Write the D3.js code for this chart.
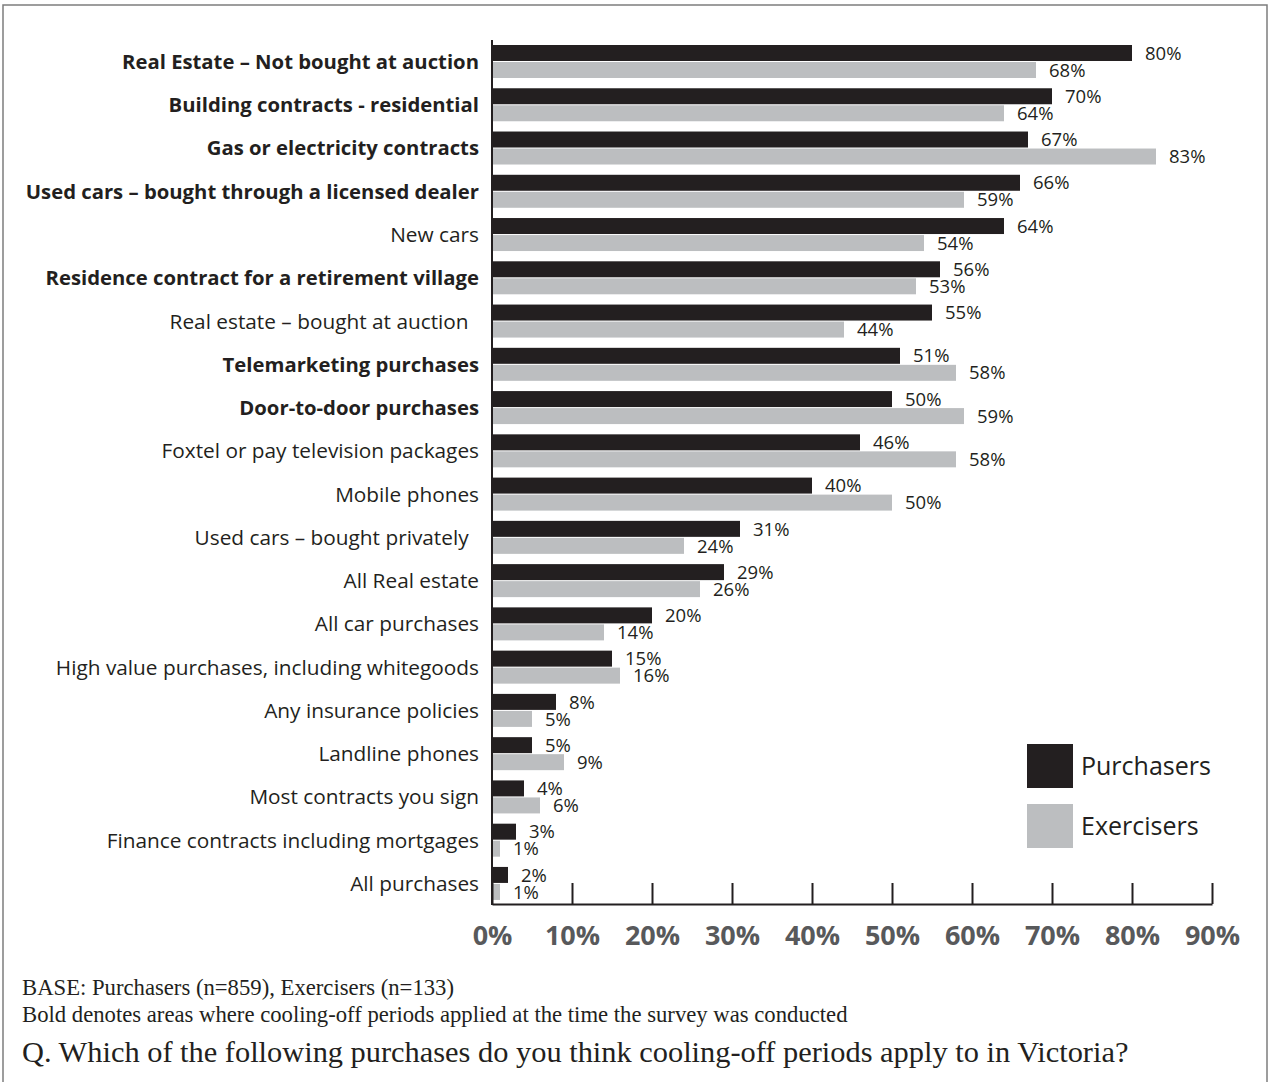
<!DOCTYPE html>
<html>
<head>
<meta charset="utf-8">
<script src="https://cdn.jsdelivr.net/npm/d3@7"></script>
<style>
  body { margin: 0; background: #fff; }
  svg { display: block; }
</style>
</head>
<body>
<svg id="chart" width="1270" height="1084"></svg>
<script>
// Purchase types, in the order they are listed
const categories = [
  "Real Estate – Not bought at auction",
  "Building contracts - residential",
  "Gas or electricity contracts",
  "Used cars – bought through a licensed dealer",
  "New cars",
  "Residence contract for a retirement village",
  "Real estate – bought at auction\u2002",
  "Telemarketing purchases",
  "Door-to-door purchases",
  "Foxtel or pay television packages",
  "Mobile phones",
  "Used cars – bought privately\u2002",
  "All Real estate",
  "All car purchases",
  "High value purchases, including whitegoods",
  "Any insurance policies",
  "Landline phones",
  "Most contracts you sign",
  "Finance contracts including mortgages",
  "All purchases"
];

// Areas where a cooling-off period applied when the survey ran (shown in bold)
const coolingOffApplied = [
  true, true, true, true, false, true, false, true, true, false,
  false, false, false, false, false, false, false, false, false, false
];

// Percentage who think a cooling-off period applies
const purchasers = [80, 70, 67, 66, 64, 56, 55, 51, 50, 46, 40, 31, 29, 20, 15, 8, 5, 4, 3, 2];
const exercisers = [68, 64, 83, 59, 54, 53, 44, 58, 59, 58, 50, 24, 26, 14, 16, 5, 9, 6, 1, 1];

const seriesNames = ["Purchasers", "Exercisers"];
const seriesColors = ["#231f20", "#bcbec0"];

const tickValues = [0, 10, 20, 30, 40, 50, 60, 70, 80, 90];

const footnotes = [
  "BASE: Purchasers (n=859), Exercisers (n=133)",
  "Bold denotes areas where cooling-off periods applied at the time the survey was conducted"
];
const question = "Q. Which of the following purchases do you think cooling-off periods apply to in Victoria?";

const svg = d3.select("#chart");
const sans = "'Open Sans', 'Noto Sans', sans-serif";
const serif = "'Liberation Serif', 'DejaVu Serif', serif";

// Outer frame (open at the bottom edge)
svg.append("path")
  .attr("d", "M3,1082V5H1267V1082")
  .attr("fill", "none")
  .attr("stroke", "#7d7d7d")
  .attr("stroke-width", 1.5);

// Scales
const x = d3.scaleLinear().domain([0, 90]).range([492, 1212]);
const step = 43.26, pairHeight = 33;
const y = d3.scaleBand()
  .domain(categories)
  .range([45, 45 + step * (categories.length - 1) + pairHeight])
  .paddingInner((step - pairHeight) / step)
  .paddingOuter(0);
const sub = d3.scaleBand()
  .domain(seriesNames)
  .range([0, y.bandwidth()])
  .paddingInner(0.06);
const color = d3.scaleOrdinal().domain(seriesNames).range(seriesColors);

const rows = categories.map((c, i) => ({
  category: c,
  bold: coolingOffApplied[i],
  values: [
    { series: "Purchasers", value: purchasers[i] },
    { series: "Exercisers", value: exercisers[i] }
  ]
}));

// Bars and value labels
const rowG = svg.append("g").selectAll("g")
  .data(rows)
  .join("g")
  .attr("transform", d => `translate(0,${y(d.category)})`);

rowG.selectAll("rect")
  .data(d => d.values)
  .join("rect")
  .attr("x", x(0))
  .attr("y", d => sub(d.series))
  .attr("width", d => x(d.value) - x(0))
  .attr("height", sub.bandwidth())
  .attr("fill", d => color(d.series));

rowG.selectAll("text.value")
  .data(d => d.values)
  .join("text")
  .attr("class", "value")
  .attr("x", d => x(d.value) + 13)
  .attr("y", d => sub(d.series) + sub.bandwidth() / 2)
  .attr("dy", "0.36em")
  .attr("font-family", sans)
  .attr("font-size", 18.5)
  .attr("fill", "#231f20")
  .text(d => d.value + "%");

// Category labels
svg.append("g").selectAll("text")
  .data(rows)
  .join("text")
  .attr("x", 479)
  .attr("y", d => y(d.category) + y.bandwidth() / 2)
  .attr("dy", "0.36em")
  .attr("text-anchor", "end")
  .attr("font-family", sans)
  .attr("font-size", d => d.bold ? 20.3 : 20.8)
  .attr("font-weight", d => d.bold ? 700 : 400)
  .attr("fill", "#231f20")
  .style("white-space", "pre")
  .text(d => d.category);

// Vertical axis line
svg.append("line")
  .attr("x1", x(0)).attr("x2", x(0))
  .attr("y1", 40).attr("y2", 905)
  .attr("stroke", "#231f20")
  .attr("stroke-width", 2);

// Horizontal axis with ticks pointing up into the plot
const xAxis = d3.axisBottom(x)
  .tickValues(tickValues)
  .tickFormat(d => d + "%")
  .tickSizeInner(-21)
  .tickSizeOuter(0)
  .tickPadding(22);

const axisG = svg.append("g")
  .attr("transform", "translate(0,904)")
  .call(xAxis);
axisG.select(".domain").attr("stroke", "#231f20").attr("stroke-width", 2);
axisG.selectAll(".tick line").attr("stroke", "#231f20").attr("stroke-width", 2);
axisG.selectAll(".tick text")
  .attr("font-family", sans)
  .attr("font-size", 27)
  .attr("font-weight", 700)
  .attr("fill", "#58595b");

// Legend
const legend = svg.append("g").selectAll("g")
  .data(seriesNames)
  .join("g")
  .attr("transform", (d, i) => `translate(1027,${744 + i * 60})`);
legend.append("rect")
  .attr("width", 46)
  .attr("height", 44)
  .attr("fill", d => color(d));
legend.append("text")
  .attr("x", 54)
  .attr("y", 22)
  .attr("dy", "0.36em")
  .attr("font-family", sans)
  .attr("font-size", 25)
  .attr("fill", "#231f20")
  .text(d => d);

// Notes under the chart
const notes = svg.append("g").attr("transform", "translate(22,0)");
notes.selectAll("text.note")
  .data(footnotes)
  .join("text")
  .attr("class", "note")
  .attr("x", 0)
  .attr("y", (d, i) => 995 + i * 27)
  .attr("font-family", serif)
  .attr("font-size", 22.7)
  .attr("fill", "#231f20")
  .text(d => d);
notes.append("text")
  .attr("x", 0)
  .attr("y", 1062)
  .attr("font-family", serif)
  .attr("font-size", 30.4)
  .attr("fill", "#231f20")
  .text(question);
</script>
</body>
</html>
